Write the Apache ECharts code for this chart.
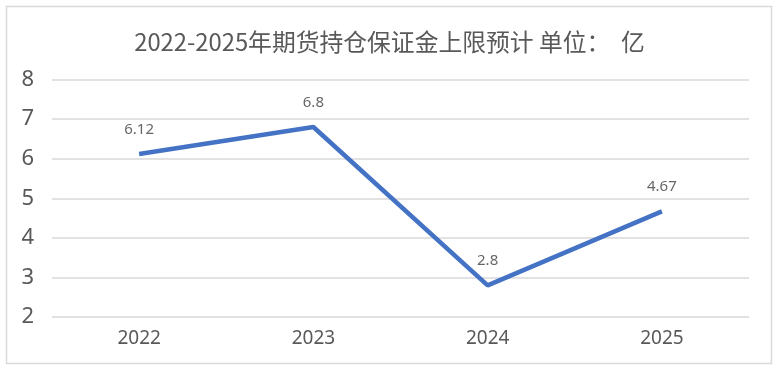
<!DOCTYPE html>
<html><head><meta charset="utf-8">
<script src="https://cdn.jsdelivr.net/npm/echarts@6/dist/echarts.min.js"></script>
<style>html,body{margin:0;padding:0;background:#fff}#c{width:779px;height:370px}</style>
</head><body><div id="c"></div>
<script>
var categories = ['2022', '2023', '2024', '2025'];
var values = [6.12, 6.8, 2.8, 4.67];
var labels = ['6.12', '6.8', '2.8', '4.67'];
var titleText = '2022-2025年期货持仓保证金上限预计 单位：  亿';
var chart = echarts.init(document.getElementById('c'));
chart.setOption({
  animation: false,
  backgroundColor: '#fff',
  graphic: [{type: 'rect', shape: {x: 6.5, y: 6.5, width: 765, height: 357}, style: {fill: 'none', stroke: '#d9d9d9', lineWidth: 1.5}}],
  title: {text: titleText, left: 'center', top: 25, textStyle: {fontFamily: 'Noto Sans CJK SC', fontSize: 23.8, fontWeight: 'normal', color: '#595959'}},
  grid: {left: 52, right: 30, top: 79.5, bottom: 53},
  xAxis: {type: 'category', data: categories, boundaryGap: true,
    axisLine: {show: false}, axisTick: {show: false},
    axisLabel: {fontSize: 19, color: '#595959', margin: 12, fontFamily: 'Noto Sans'}},
  yAxis: {type: 'value', min: 2, max: 8, interval: 1,
    axisLabel: {fontSize: 22, color: '#595959', margin: 18, fontFamily: 'Noto Sans'},
    splitLine: {lineStyle: {color: '#d9d9d9', width: 1.5}},
    axisLine: {show: false}, axisTick: {show: false}},
  series: [{type: 'line', data: values, symbol: 'none',
    lineStyle: {color: '#4472C4', width: 4.5}},
    {type: 'scatter', data: values, symbol: 'circle', symbolSize: 2,
    itemStyle: {color: 'rgba(0,0,0,0)'},
    label: {show: true, position: 'top', distance: 16, fontSize: 15, color: '#404040', fontFamily: 'Noto Sans',
      formatter: function(p){return labels[p.dataIndex];}}}]
});
</script></body></html>
